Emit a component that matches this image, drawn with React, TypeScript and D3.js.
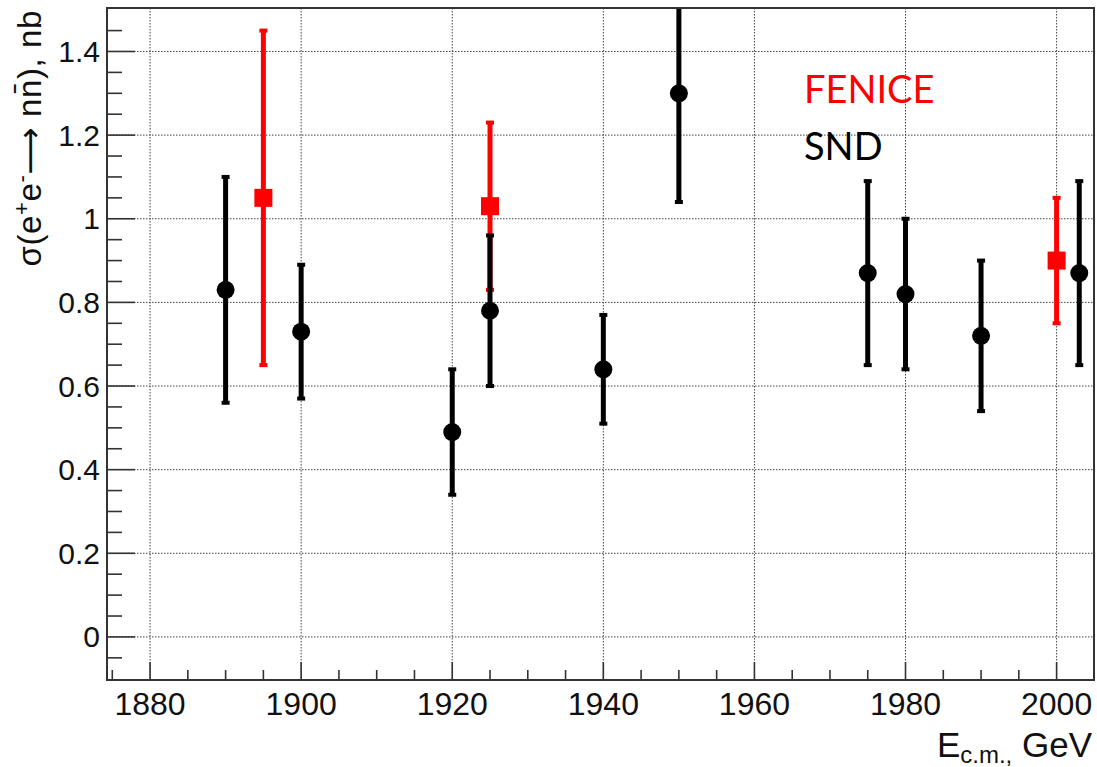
import React from "react";
import * as d3 from "d3";

const W = 1097;
const H = 767;

// SND data
const sndEnergy = [1890, 1900, 1920, 1925, 1940, 1950, 1975, 1980, 1990, 2003];
const sndSigma = [0.83, 0.73, 0.49, 0.78, 0.64, 1.30, 0.87, 0.82, 0.72, 0.87];
const sndLow = [0.56, 0.57, 0.34, 0.60, 0.51, 1.04, 0.65, 0.64, 0.54, 0.65];
const sndHigh = [1.10, 0.89, 0.64, 0.96, 0.77, 1.56, 1.09, 1.00, 0.90, 1.09];

// FENICE data
const fenEnergy = [1895, 1925, 2000];
const fenSigma = [1.05, 1.03, 0.90];
const fenLow = [0.65, 0.83, 0.75];
const fenHigh = [1.45, 1.23, 1.05];

const xMajor = [1880, 1900, 1920, 1940, 1960, 1980, 2000];
const yMajor = [0, 0.2, 0.4, 0.6, 0.8, 1, 1.2, 1.4];
const yLabels = ["0", "0.2", "0.4", "0.6", "0.8", "1", "1.2", "1.4"];

const left = 107, right = 1094, top = 8, bottom = 680;

export default function App() {
  const x = d3.scaleLinear().domain([1874.3, 2004.95]).range([left, right]);
  const y = d3.scaleLinear().domain([-0.103, 1.504]).range([bottom, top]);

  const xMinor = d3.range(1875, 2005, 5).filter((v) => !xMajor.includes(v));
  const yMinor = d3.range(-0.05, 1.5, 0.05).map((v) => Math.round(v * 100) / 100).filter((v) => !yMajor.some((m) => Math.abs(m - v) < 1e-6));

  const font = "'Liberation Sans', Arial, Helvetica, sans-serif";
  const gridColor = "#444";

  const errBar = (ex: number, lo: number, hi: number, color: string, key: string) => {
    const cx = x(ex);
    const y1 = Math.max(y(hi), top);
    const y2 = y(lo);
    return (
      <g key={key}>
        <line x1={cx} x2={cx} y1={y1} y2={y2} stroke={color} strokeWidth={5} />
        {y(hi) >= top && <rect x={cx - 4} y={y(hi) - 2} width={8} height={4} fill={color} />}
        <rect x={cx - 4} y={y2 - 2} width={8} height={4} fill={color} />
      </g>
    );
  };

  return (
    <div style={{ position: "absolute", left: 0, top: 0 }}>
      <svg width={W} height={H} style={{ display: "block", background: "#fff" }}>
        <defs>
          <clipPath id="plotclip">
            <rect x={left} y={top} width={right - left} height={bottom - top} />
          </clipPath>
        </defs>
        {/* grid */}
        {xMajor.map((v) => (
          <line key={"gx" + v} x1={x(v)} x2={x(v)} y1={top} y2={bottom} stroke={gridColor} strokeWidth={1} strokeDasharray="1.5,1.5" />
        ))}
        {yMajor.map((v) => (
          <line key={"gy" + v} x1={left} x2={right} y1={y(v)} y2={y(v)} stroke={gridColor} strokeWidth={1} strokeDasharray="1.5,1.5" />
        ))}
        {/* ticks */}
        {xMajor.map((v) => (
          <line key={"tx" + v} x1={x(v)} x2={x(v)} y1={bottom} y2={bottom - 18} stroke="#333" strokeWidth={1.6} />
        ))}
        {xMinor.map((v) => (
          <line key={"mx" + v} x1={x(v)} x2={x(v)} y1={bottom} y2={bottom - 10} stroke="#333" strokeWidth={1.6} />
        ))}
        {yMajor.map((v) => (
          <line key={"ty" + v} x1={left} x2={left + 28} y1={y(v)} y2={y(v)} stroke="#333" strokeWidth={1.6} />
        ))}
        {yMinor.map((v) => (
          <line key={"my" + v} x1={left} x2={left + 15} y1={y(v)} y2={y(v)} stroke="#333" strokeWidth={1.6} />
        ))}
        {/* data */}
        <g clipPath="url(#plotclip)">
          {fenEnergy.map((e, i) => errBar(e, fenLow[i], fenHigh[i], "#ff0000", "fe" + i))}
          {fenEnergy.map((e, i) => (
            <rect key={"fs" + i} x={x(e) - 9} y={y(fenSigma[i]) - 9} width={18} height={18} fill="#ff0000" />
          ))}
          {sndEnergy.map((e, i) => errBar(e, sndLow[i], sndHigh[i], "#000", "se" + i))}
          {sndEnergy.map((e, i) => (
            <circle key={"sc" + i} cx={x(e)} cy={y(sndSigma[i])} r={9} fill="#000" />
          ))}
        </g>
        {/* frame */}
        <rect x={left} y={top} width={right - left} height={bottom - top} fill="none" stroke="#333" strokeWidth={2} />
        {/* tick labels */}
        {xMajor.map((v) => (
          <text key={"lx" + v} x={x(v)} y={715} textAnchor="middle" fontFamily={font} fontSize={32} fill="#111">
            {v}
          </text>
        ))}
        {yMajor.map((v, i) => (
          <text key={"ly" + v} x={100} y={y(v) + 10.5} textAnchor="end" fontFamily={font} fontSize={30} fill="#111">
            {yLabels[i]}
          </text>
        ))}
        {/* axis titles */}
        <text x={1092} y={757} textAnchor="end" fontFamily={font} fontSize={35} fill="#111">
          E<tspan fontSize={24} dy={6}>c.m.,</tspan>
          <tspan dy={-6}> GeV</tspan>
        </text>
        <text transform="translate(41,10) rotate(-90)" textAnchor="end" fontFamily={font} fontSize={33} letterSpacing={0.6} fill="#111">
          σ(e<tspan fontSize={22} dy={-12}>+</tspan>
          <tspan dy={12}>e</tspan>
          <tspan fontSize={22} dy={-12}>-</tspan>
          <tspan dy={12} fontFamily="'DejaVu Sans', sans-serif">{"\u27F6"}</tspan>
          <tspan>{" n"}</tspan>
          <tspan>{"n\u0304"}</tspan>
          <tspan>), nb</tspan>
        </text>
        {/* legend */}
        <text x={804} y={103} fontFamily="Lato, 'Open Sans', sans-serif" fontSize={38} fill="#ff0000">
          FENICE
        </text>
        <text x={804} y={160} fontFamily="Lato, 'Open Sans', sans-serif" fontSize={38} fill="#000">
          SND
        </text>
      </svg>
    </div>
  );
}
